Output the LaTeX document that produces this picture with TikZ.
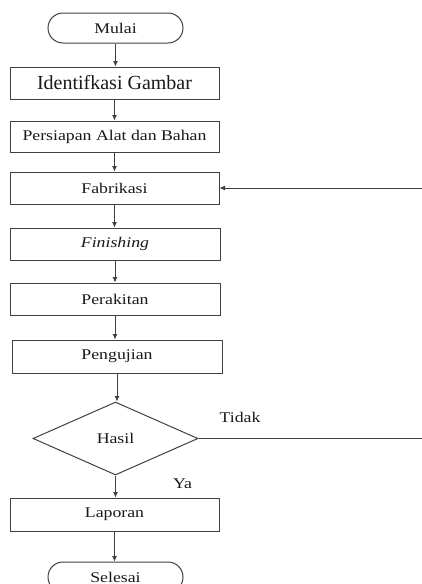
\documentclass[tikz,border=0pt]{standalone}
\usepackage{fontspec}
\usepackage{graphicx}
\setmainfont{Liberation Serif}
\usetikzlibrary{shapes.geometric,arrows.meta}
\newcommand\stx[1]{\scalebox{1.2}[1]{#1}}
\begin{document}
\begin{tikzpicture}[x=1pt,y=-1pt,
  every node/.style={font=\fontsize{14.8}{17}\selectfont, text=black!90},
  procbox/.style={draw=black!75, line width=1pt, minimum width=209pt, minimum height=32pt, inner sep=0pt},
  termbox/.style={draw=black!75, line width=1pt, minimum width=135pt, minimum height=30pt, inner sep=0pt, rounded corners=15pt},
  decbox/.style={draw=black!75, line width=1pt, diamond, minimum width=165pt, minimum height=73pt, inner sep=0pt, aspect=2.26},
  arr/.style={draw=black!75, line width=0.8pt, -{Latex[length=5.5pt,width=5pt]}},
  lbl/.style={inner sep=0pt}]
\useasboundingbox (0,0) rectangle (421,584);
\node[termbox] (mulai) at (115.5,28) {\stx{Mulai}};
\node[procbox, font=\fontsize{20}{23}\selectfont] (ident) at (114.5,83) {Identifkasi Gambar};
\node[procbox, minimum height=31pt] (persiapan) at (114.5,136.5) {\stx{Persiapan Alat dan Bahan}};
\node[procbox] (fab) at (114.5,188) {\stx{Fabrikasi}};
\node[procbox, minimum width=210pt] (fin) at (115,244) {\stx{\itshape Finishing}};
\node[procbox, minimum width=210pt] (rakit) at (115,299) {\stx{Perakitan}};
\node[procbox, minimum width=210pt, minimum height=33pt] (uji) at (117,356.5) {\stx{Pengujian}};
\node[decbox] (hasil) at (115.5,438.5) {\stx{Hasil}};
\node[procbox, minimum height=33pt] (lapor) at (114.5,514.5) {\stx{Laporan}};
\node[termbox] (selesai) at (115.5,577) {\stx{Selesai}};
\node[lbl] (tidak) at (240,417) {\stx{Tidak}};
\node[lbl] (ya) at (182.5,484) {\stx{Ya}};
\coordinate (fb) at (423,438.5);
\draw[arr] (mulai.south) -- (mulai.south |- ident.north);
\draw[arr] (ident.south) -- (ident.south |- persiapan.north);
\draw[arr] (persiapan.south) -- (persiapan.south |- fab.north);
\draw[arr] (fab.south) -- (fab.south |- fin.north);
\draw[arr] (fin.south) -- (fin.south |- rakit.north);
\draw[arr] (rakit.south) -- (rakit.south |- uji.north);
\draw[arr] (uji.south) -- (uji.south |- hasil.north);
\draw[arr] (hasil.south) -- (hasil.south |- lapor.north);
\draw[arr] (lapor.south) -- (lapor.south |- selesai.north);
\draw[arr] (hasil.east) -- (fb) |- (fab.east);
\end{tikzpicture}
\end{document}
